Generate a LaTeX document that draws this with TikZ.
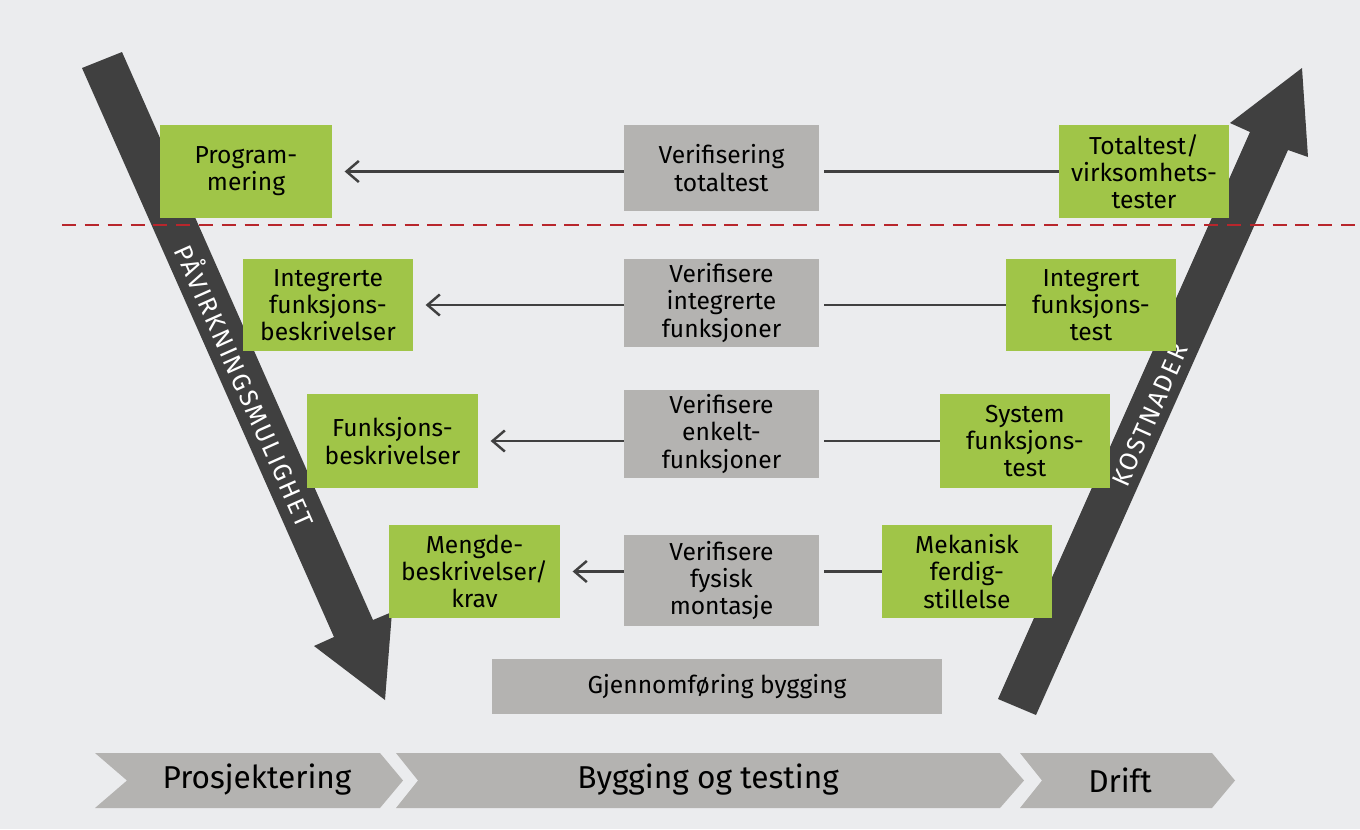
\documentclass[tikz,border=0pt]{standalone}
\usepackage{fontspec}
\setmainfont{Fira Sans}
\usetikzlibrary{arrows.meta}
\definecolor{bg}{HTML}{EBECEE}
\definecolor{grn}{HTML}{A0C548}
\definecolor{gry}{HTML}{B4B3B1}
\definecolor{dark}{HTML}{404040}
\definecolor{dred}{HTML}{B8262C}
\begin{document}
\begin{tikzpicture}[x=0.02cm,y=-0.02cm,
  sz/.style 2 args={minimum width=#1*0.02cm,minimum height=#2*0.02cm},
  box/.style={inner sep=0pt,align=center,font=\fontsize{14}{15.5}\selectfont,text=black},
  gbox/.style={box,fill=grn},
  sbox/.style={box,fill=gry},
  con/.style={draw=dark,line width=1.4pt},
  arr/.style={con,-{Straight Barb[length=7pt,width=12pt,line width=1.4pt]},shorten >=7pt},
  chev/.style={fill=gry},
  big/.style={fill=dark},
  vlab/.style={text=white,font=\fontsize{14.5}{16}\selectfont\addfontfeatures{LetterSpace=8}}]
\fill[bg] (0,0) rectangle (1360,829);
\useasboundingbox (0,0) rectangle (1360,829);
% big arrows
\fill[big] (82,68)--(122,52)--(373,620)--(392,612)--(385,700)--(314,646)--(334,637)--cycle;
\fill[big] (998,699)--(1036,715)--(1288,150)--(1308,157)--(1302,68)--(1230,123)--(1250,132)--cycle;
\node[vlab,rotate=-66] (pav) at (247,385) {PÅVIRKNINGSMULIGHET};
\node[vlab,rotate=66] (kos) at (1150,415) {KOSTNADER};
% dashed line
\draw[dred,line width=1.3pt,dash pattern=on 8pt off 5pt] (62,225)--(1360,225);
% boxes
\node[gbox,sz={172}{93}] (l1) at (246,171.5) {Program-\\mering};
\node[sbox,sz={195}{86}] (m1) at (721.5,168) {Verifisering\\totaltest};
\node[gbox,sz={170}{93}] (r1) at (1144,171.5) {Totaltest/\\virksomhets-\\tester};
\node[gbox,sz={170}{92}] (l2) at (328,305) {Integrerte\\funksjons-\\beskrivelser};
\node[sbox,sz={195}{88}] (m2) at (721.5,303) {Verifisere\\integrerte\\funksjoner};
\node[gbox,sz={170}{92}] (r2) at (1091,305) {Integrert\\funksjons-\\test};
\node[gbox,sz={171}{94}] (l3) at (392.5,441) {Funksjons-\\beskrivelser};
\node[sbox,sz={195}{88}] (m3) at (721.5,434) {Verifisere\\enkelt-\\funksjoner};
\node[gbox,sz={170}{94}] (r3) at (1025,441) {System\\funksjons-\\test};
\node[gbox,sz={171}{93}] (l4) at (474.5,571.5) {Mengde-\\beskrivelser/\\krav};
\node[sbox,sz={195}{91}] (m4) at (721.5,580.5) {Verifisere\\fysisk\\montasje};
\node[gbox,sz={170}{93}] (r4) at (967,571.5) {Mekanisk\\ferdig-\\stillelse};
\node[sbox,sz={450}{55}] (gb) at (717,686.5) {Gjennomføring bygging};
% connectors
\foreach \i in {1,2,3,4}{
  \draw[con,shorten >=2.5pt] (r\i.west) -- (m\i.east |- r\i.west);
  \draw[arr] (m\i.west |- l\i.east) -- (l\i.east);
}
% chevrons
\fill[chev] (95,753)--(380,753)--(403,780.5)--(380,808)--(95,808)--(127,780.5)--cycle;
\fill[chev] (396,753)--(1000,753)--(1024,780.5)--(1000,808)--(396,808)--(418,780.5)--cycle;
\fill[chev] (1020,753)--(1212,753)--(1235,780.5)--(1212,808)--(1020,808)--(1042,780.5)--cycle;
\node[font=\fontsize{18}{20}\selectfont] (p1) at (257,780) {Prosjektering};
\node[font=\fontsize{18}{20}\selectfont] (p2) at (708,780) {Bygging og testing};
\node[font=\fontsize{18}{20}\selectfont] (p3) at (1120,780) {Drift};
\end{tikzpicture}
\end{document}
